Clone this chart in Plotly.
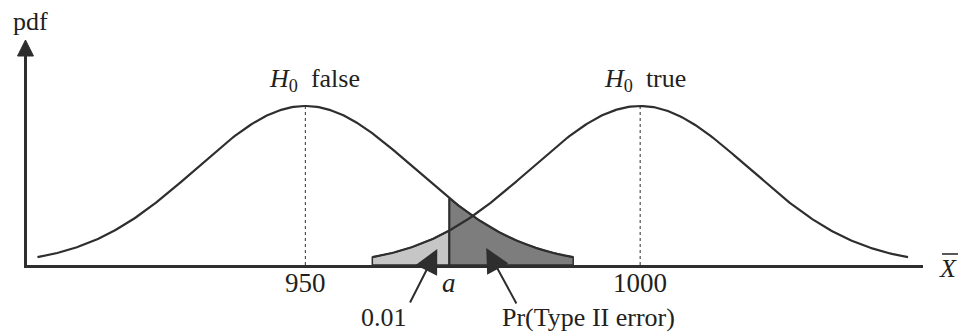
import numpy as np
import plotly.graph_objects as go

# ---------------- data ----------------
means = [950, 1000]                      # centres of the two sampling distributions
curve_labels = ["<i>H</i><sub>0</sub>  false", "<i>H</i><sub>0</sub>  true"]
sd = 16.3                                # spread of each curve
half_width = 40                          # curves drawn mean ± this
critical_a = 971.5                       # critical value a
shade_lo = 960                           # left end of the 0.01 region
shade_hi = 990                           # right end of the Type II region
tick_vals = [950, critical_a, 1000]
tick_text = ["950", "<i>a</i>", "1000"]
alpha_label = "0.01"
beta_label = "Pr(Type II error)"
y_label = "pdf"
x_label = "<i>X</i>"

# ---------------- layout constants ----------------
FONT = "Liberation Serif"
INK = "#231f20"
LINE = "#2e2e2e"
LIGHT = "#c6c6c6"
DARK = "#7d7d7d"
W, H = 960, 332
L, R, T, B = 26.5, 37, 50, 67
PW, PH = W - L - R, H - T - B
PX_PER_UNIT = 6.7
X0 = 950 - (305 - L) / PX_PER_UNIT
X1 = X0 + PW / PX_PER_UNIT
PEAK = 1 / (sd * np.sqrt(2 * np.pi))
PEAK_PX = (H - B) - 106
Y1 = PEAK * PH / PEAK_PX


def pdf(x, m):
    return np.exp(-0.5 * ((x - m) / sd) ** 2) / (sd * np.sqrt(2 * np.pi))


def pxx(px):
    return (px - L) / PW


def pxy(py):
    return (H - B - py) / PH


def dy(py):
    # pixel row -> data y
    return (H - B - py) / PEAK_PX * PEAK


def dx(px):
    return X0 + (px - L) / PX_PER_UNIT


fig = go.Figure()

# shaded regions
xl = np.linspace(shade_lo, critical_a, 60)
yl = pdf(xl, means[1])
fig.add_trace(go.Scatter(
    x=np.concatenate([[shade_lo], xl, [critical_a, shade_lo]]),
    y=np.concatenate([[0], yl, [0, 0]]),
    fill="toself", fillcolor=LIGHT, mode="lines",
    line=dict(color=LINE, width=1.5), hoverinfo="skip", showlegend=False))

xd = np.linspace(critical_a, shade_hi, 80)
yd = pdf(xd, means[0])
fig.add_trace(go.Scatter(
    x=np.concatenate([[critical_a], xd, [shade_hi, critical_a]]),
    y=np.concatenate([[0], yd, [0, 0]]),
    fill="toself", fillcolor=DARK, mode="lines",
    line=dict(color=LINE, width=1.5), hoverinfo="skip", showlegend=False))

# the two curves and their dashed centre lines
for m in means:
    xs = np.linspace(m - half_width, m + half_width, 300)
    fig.add_trace(go.Scatter(x=xs, y=pdf(xs, m), mode="lines",
                             line=dict(color=LINE, width=2.2),
                             hoverinfo="skip", showlegend=False))
    fig.add_trace(go.Scatter(x=[m, m], y=[0, pdf(m, m)], mode="lines",
                             line=dict(color=LINE, width=1, dash="3px,3px"),
                             hoverinfo="skip", showlegend=False))

# vertical line at a
fig.add_trace(go.Scatter(x=[critical_a, critical_a], y=[0, pdf(critical_a, means[0])],
                         mode="lines", line=dict(color=LINE, width=2),
                         hoverinfo="skip", showlegend=False))

txt = dict(family=FONT, size=26, color=INK)
annotations = []
# tick labels under the axis
for v, t in zip(tick_vals, tick_text):
    annotations.append(dict(x=v, y=pxy(283), xref="x", yref="paper", text=t,
                            showarrow=False, xanchor="center", yanchor="middle",
                            font=dict(family=FONT, size=27, color=INK)))
# curve titles
annotations.append(dict(x=pxx(267), y=pxy(80), xref="paper", yref="paper",
                        text=curve_labels[0], showarrow=False, xanchor="left",
                        yanchor="middle", font=txt))
annotations.append(dict(x=pxx(602), y=pxy(80), xref="paper", yref="paper",
                        text=curve_labels[1], showarrow=False, xanchor="left",
                        yanchor="middle", font=txt))
# axis titles
annotations.append(dict(x=pxx(30), y=pxy(21), xref="paper", yref="paper",
                        text=y_label, showarrow=False, xanchor="center",
                        yanchor="middle", font=txt))
annotations.append(dict(x=pxx(948), y=pxy(268), xref="paper", yref="paper",
                        text=x_label, showarrow=False, xanchor="center",
                        yanchor="middle", font=txt))
# bottom labels
annotations.append(dict(x=pxx(384), y=pxy(317), xref="paper", yref="paper",
                        text=alpha_label, showarrow=False, xanchor="center",
                        yanchor="middle", font=txt))
annotations.append(dict(x=pxx(500), y=pxy(317), xref="paper", yref="paper",
                        text=beta_label, showarrow=False, xanchor="left",
                        yanchor="middle", font=txt))
# pointer arrows
annotations.append(dict(x=dx(437), y=dy(249), ax=dx(409), ay=dy(304),
                        xref="x", yref="y", axref="x", ayref="y", text="",
                        showarrow=True, arrowhead=2, arrowwidth=2, arrowsize=2.4,
                        arrowcolor=LINE))
annotations.append(dict(x=dx(486), y=dy(248), ax=dx(517), ay=dy(305),
                        xref="x", yref="y", axref="x", ayref="y", text="",
                        showarrow=True, arrowhead=2, arrowwidth=2, arrowsize=2.4,
                        arrowcolor=LINE))

shapes = [
    # y-axis arrow head
    dict(type="path", xref="paper", yref="paper",
         path=f"M {pxx(17)},{pxy(56)} L {pxx(25)},{pxy(40)} L {pxx(33)},{pxy(56)} Z",
         fillcolor=LINE, line=dict(color=LINE, width=1)),
    # bar over X
    dict(type="line", xref="paper", yref="paper",
         x0=pxx(942), x1=pxx(958), y0=pxy(254), y1=pxy(254),
         line=dict(color=INK, width=1.5)),
]

fig.update_layout(
    width=W, height=H,
    margin=dict(l=L, r=R, t=T, b=B),
    paper_bgcolor="white", plot_bgcolor="white",
    showlegend=False,
    annotations=annotations,
    shapes=shapes,
    xaxis=dict(range=[X0, X1], showgrid=False, zeroline=False,
               showline=True, linecolor=LINE, linewidth=3,
               showticklabels=False, ticks="", fixedrange=True),
    yaxis=dict(range=[0, Y1], showgrid=False, zeroline=False,
               showline=True, linecolor=LINE, linewidth=3,
               showticklabels=False, ticks="", fixedrange=True),
)

fig.write_html("out.html", config={"displayModeBar": False},
               post_script="document.body.style.margin='0';document.body.style.overflow='hidden';")
